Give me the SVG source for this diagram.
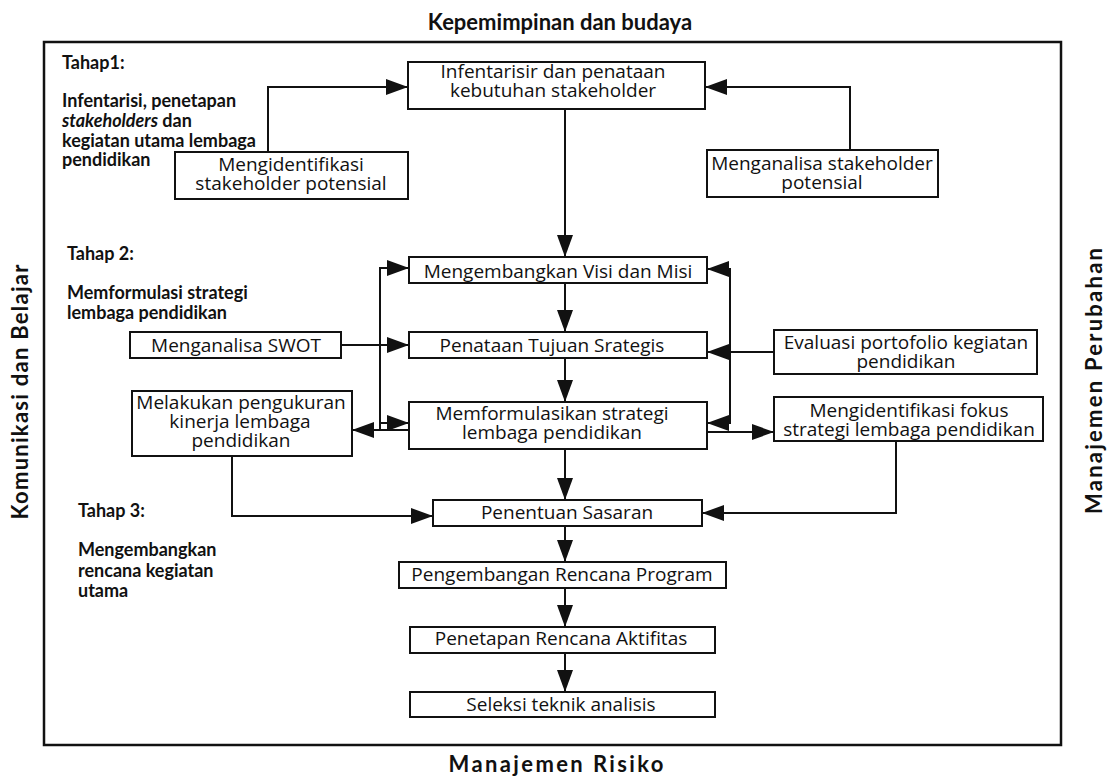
<svg xmlns="http://www.w3.org/2000/svg" width="1111" height="776" viewBox="0 0 1111 776">
<style>
.box{fill:#fff;stroke:#111;stroke-width:2}
.t{font-family:"Open Sans","Liberation Sans",sans-serif;font-size:19px;fill:#111;text-anchor:middle}
.b{font-family:Lato,"Liberation Sans",sans-serif;font-size:18px;font-weight:bold;fill:#111}
.h{font-family:Lato,"Liberation Sans",sans-serif;font-size:22px;font-weight:bold;fill:#111;text-anchor:middle}
.c{fill:none;stroke:#111;stroke-width:2;marker-end:url(#ah)}
</style>
<defs>
<marker id="ah" markerWidth="22" markerHeight="16" refX="22" refY="8" orient="auto" markerUnits="userSpaceOnUse"><path d="M0,0 L22,8 L0,16 z" fill="#111"/></marker>
</defs>
<rect width="1111" height="776" fill="#fff"/>
<rect x="44" y="42" width="1017" height="703" fill="none" stroke="#111" stroke-width="2.5"/>
<g id="frame-labels">
<text class="h" x="560" y="30">Kepemimpinan dan budaya</text>
<text class="h" x="556" y="772" font-size="25" textLength="215">Manajemen Risiko</text>
<text class="h" transform="translate(28,392) rotate(-90)" font-size="25" textLength="255">Komunikasi dan Belajar</text>
<text class="h" transform="translate(1102,381) rotate(-90)" font-size="26" textLength="266">Manajemen Perubahan</text>
</g>

<g id="labels">
<text class="b" x="62" y="69">Tahap1:</text>
<text class="b" x="62" y="107">Infentarisi, penetapan</text>
<text class="b" x="62" y="127"><tspan font-style="italic">stakeholders</tspan> dan</text>
<text class="b" x="62" y="147">kegiatan utama lembaga</text>
<text class="b" x="62" y="166">pendidikan</text>
<text class="b" x="67" y="260">Tahap 2:</text>
<text class="b" x="67" y="299">Memformulasi strategi</text>
<text class="b" x="67" y="319">lembaga pendidikan</text>
<text class="b" x="78" y="517">Tahap 3:</text>
<text class="b" x="78" y="556">Mengembangkan</text>
<text class="b" x="78" y="577">rencana kegiatan</text>
<text class="b" x="78" y="597">utama</text>
</g>

<g id="connectors">
<path class="c" d="M268,152 V87 H408"/>
<path class="c" d="M850,150 V87 H705"/>
<path class="c" d="M565,109 V257"/>
<path class="c" d="M565,283 V332"/>
<path class="c" d="M565,358 V402"/>
<path class="c" d="M565,449 V500"/>
<path class="c" d="M565,526 V562"/>
<path class="c" d="M565,588 V627"/>
<path class="c" d="M565,653 V692"/>
<path class="c" d="M341,345 H409"/>
<path class="c" d="M380,430 V268 H409"/>
<path class="c" d="M380,423 H409"/>
<path class="c" d="M409,430 H352"/>
<path class="c" d="M730,346 V269 H707"/>
<path class="c" d="M730,346 V423 H707"/>
<path class="c" d="M774,352 H707"/>
<path class="c" d="M707,432 H774"/>
<path class="c" d="M232,456 V516 H433"/>
<path class="c" d="M896,441 V513 H702"/>
</g>

<g id="n1"><rect class="box" x="408" y="62" width="297" height="47"/><text class="t" x="553" y="78">Infentarisir dan penataan</text><text class="t" x="553" y="97">kebutuhan stakeholder</text></g>
<g id="n2"><rect class="box" x="175" y="152" width="233" height="47"/><text class="t" x="291" y="171">Mengidentifikasi</text><text class="t" x="291" y="190">stakeholder potensial</text></g>
<g id="n3"><rect class="box" x="707" y="150" width="231" height="47"/><text class="t" x="822" y="170">Menganalisa stakeholder</text><text class="t" x="822" y="189">potensial</text></g>
<g id="n4"><rect class="box" x="409" y="257" width="298" height="26"/><text class="t" x="558" y="278">Mengembangkan Visi dan Misi</text></g>
<g id="n5"><rect class="box" x="409" y="332" width="298" height="26"/><text class="t" x="552" y="352">Penataan Tujuan Srategis</text></g>
<g id="n6"><rect class="box" x="409" y="402" width="298" height="47"/><text class="t" x="552" y="420">Memformulasikan strategi</text><text class="t" x="552" y="439">lembaga pendidikan</text></g>
<g id="n7"><rect class="box" x="130" y="332" width="211" height="26"/><text class="t" x="236" y="352">Menganalisa SWOT</text></g>
<g id="n8"><rect class="box" x="132" y="391" width="220" height="65"/><text class="t" x="241" y="409">Melakukan pengukuran</text><text class="t" x="240" y="428">kinerja lembaga</text><text class="t" x="241" y="447">pendidikan</text></g>
<g id="n9"><rect class="box" x="774" y="330" width="263" height="44"/><text class="t" x="906" y="349">Evaluasi portofolio kegiatan</text><text class="t" x="906" y="368">pendidikan</text></g>
<g id="n10"><rect class="box" x="774" y="397" width="269" height="44"/><text class="t" x="909" y="417">Mengidentifikasi fokus</text><text class="t" x="909" y="436">strategi lembaga pendidikan</text></g>
<g id="n11"><rect class="box" x="433" y="500" width="269" height="26"/><text class="t" x="567" y="519">Penentuan Sasaran</text></g>
<g id="n12"><rect class="box" x="399" y="562" width="327" height="26"/><text class="t" x="562" y="581">Pengembangan Rencana Program</text></g>
<g id="n13"><rect class="box" x="410" y="627" width="305" height="26"/><text class="t" x="561" y="645">Penetapan Rencana Aktifitas</text></g>
<g id="n14"><rect class="box" x="410" y="692" width="305" height="25"/><text class="t" x="561" y="711">Seleksi teknik analisis</text></g>
</svg>
